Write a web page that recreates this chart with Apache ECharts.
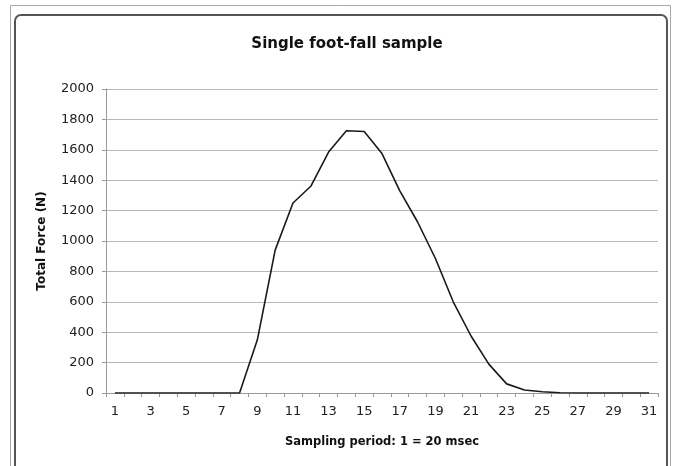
<!DOCTYPE html>
<html>
<head>
<meta charset="utf-8">
<script src="https://cdn.jsdelivr.net/npm/echarts@6/dist/echarts.min.js"></script>
<style>
html,body{margin:0;padding:0;background:#fff;}
#c{width:673px;height:466px;}
</style>
</head>
<body>
<div id="c"></div>
<script>
const categories = ['1','2','3','4','5','6','7','8','9','10','11','12','13','14','15','16','17','18','19','20','21','22','23','24','25','26','27','28','29','30','31'];
const forceValues = [0,0,0,0,0,0,0,0,350,940,1250,1360,1585,1725,1720,1575,1330,1125,885,600,375,190,60,20,8,2,0,0,0,0,0];
const yTicks = [0,200,400,600,800,1000,1200,1400,1600,1800,2000];

const chart = echarts.init(document.getElementById('c'), null, {renderer:'canvas'});
const font = 'DejaVu Sans, Arial, sans-serif';
chart.setOption({
  animation:false,
  backgroundColor:'#fff',
  graphic:[
    {type:'rect', shape:{x:10.5,y:5.5,width:660,height:480}, style:{fill:'none',stroke:'#a8a8a8',lineWidth:1}, z:-1},
    {type:'rect', shape:{x:15,y:15,width:652,height:470,r:6}, style:{fill:'#fff',stroke:'#555',lineWidth:2}, z:-1}
  ],
  title:{
    text:'Single foot-fall sample',
    left:342, top:32, textAlign:'center',
    textStyle:{fontFamily:font,fontSize:15,fontWeight:'bold',color:'#111'}
  },
  grid:{left:106,right:15,top:89,bottom:73,containLabel:false},
  xAxis:{
    type:'category',
    data:categories,
    boundaryGap:true,
    name:'Sampling period: 1 = 20 msec',
    nameLocation:'middle',
    nameGap:43,
    nameTextStyle:{fontFamily:font,fontSize:11.5,fontWeight:'bold',color:'#111'},
    axisLine:{lineStyle:{color:'#999',width:1}},
    axisTick:{show:true,interval:0,alignWithLabel:false,length:4,lineStyle:{color:'#999'}},
    axisLabel:{interval:1,fontFamily:font,fontSize:13,color:'#222',margin:12},
    splitLine:{show:false}
  },
  yAxis:{
    type:'value',
    min:0,max:2000,interval:200,
    name:'Total Force (N)',
    nameLocation:'middle',
    nameGap:58,
    nameTextStyle:{fontFamily:font,fontSize:12,fontWeight:'bold',color:'#111'},
    axisLine:{show:true,lineStyle:{color:'#999',width:1}},
    axisTick:{show:true,length:4,lineStyle:{color:'#999'}},
    axisLabel:{fontFamily:font,fontSize:13,color:'#222',margin:12,
      formatter:function(v){return yTicks.indexOf(v)>=0?String(v):'';}},
    splitLine:{show:true,lineStyle:{color:'#b8b8b8',width:1}}
  },
  series:[{
    type:'line',
    data:forceValues,
    symbol:'none',
    smooth:false,
    lineStyle:{color:'#1a1a1a',width:1.6}
  }]
});
</script>
</body>
</html>
